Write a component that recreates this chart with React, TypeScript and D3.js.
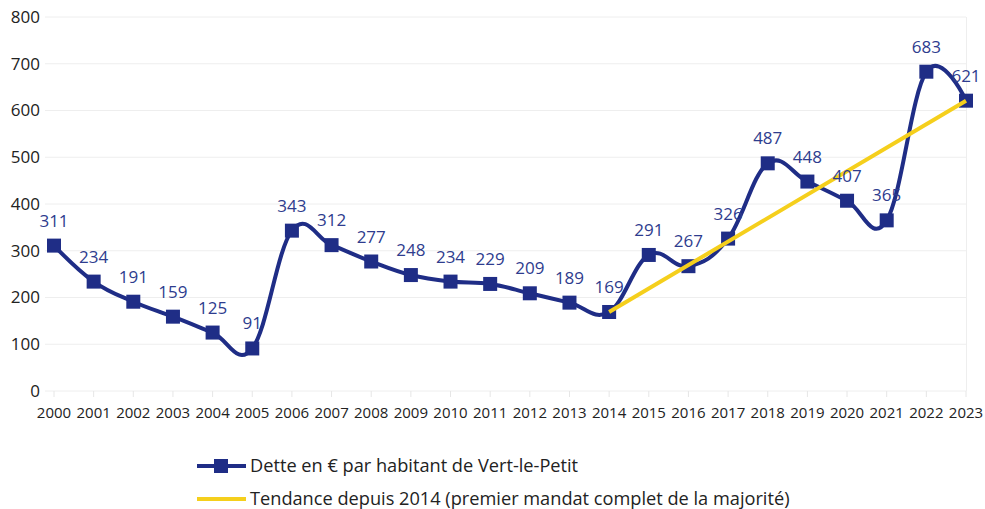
import React from "react";
import * as d3 from "d3";

const years = ["2000","2001","2002","2003","2004","2005","2006","2007","2008","2009","2010","2011","2012","2013","2014","2015","2016","2017","2018","2019","2020","2021","2022","2023"];
const debt = [311,234,191,159,125,91,343,312,277,248,234,229,209,189,169,291,267,326,487,448,407,365,683,621];
const trendYears = ["2014","2023"];
const trendValues = [169,621];
const yTicks = [0,100,200,300,400,500,600,700,800];
const legendLabels = ["Dette en € par habitant de Vert-le-Petit","Tendance depuis 2014 (premier mandat complet de la majorité)"];

const W = 985, H = 509;
const FONT = "'Open Sans', 'Noto Sans', sans-serif";
const NAVY = "#1f2d86";
const LABEL = "#2e3c8e";
const YELLOW = "#f5cf1c";

export default function App() {
  const x = d3.scalePoint<string>().domain(years).range([54, 966]);
  const y = d3.scaleLinear().domain([0, 800]).range([391, 17]);
  const line = d3.line<number>().x((_, i) => x(years[i])!).y(d => y(d)).curve(d3.curveCardinal.tension(-0.15));
  const trend = d3.line<number>().x((_, i) => x(trendYears[i])!).y(d => y(d));
  return (
    <svg width={W} height={H} style={{ position: "absolute", left: 0, top: 0, background: "#fff" }}>
      {yTicks.map(t => (
        <g key={t}>
          <line x1={45} x2={966} y1={y(t)} y2={y(t)} stroke="#eeeeee" strokeWidth={1} />
          <text x={40} y={y(t)} dy="0.35em" textAnchor="end" fontFamily={FONT} fontSize={17} fill="#222">{t}</text>
        </g>
      ))}
      <line x1={966.5} x2={966.5} y1={17} y2={391} stroke="#eeeeee" />
      {years.map(yr => (
        <g key={yr}>
          <line x1={x(yr)} x2={x(yr)} y1={391} y2={397} stroke="#e6e6e6" />
          <text x={x(yr)} y={418} textAnchor="middle" fontFamily={FONT} fontSize={15} fill="#222">{yr}</text>
        </g>
      ))}
      <path d={line(debt)!} fill="none" stroke={NAVY} strokeWidth={4} />
      {debt.map((v, i) => (
        <rect key={i} x={x(years[i])! - 7} y={y(v) - 7} width={14} height={14} fill={NAVY} />
      ))}
      <path d={trend(trendValues)!} fill="none" stroke={YELLOW} strokeWidth={4} />
      {debt.map((v, i) => (
        <text key={i} x={x(years[i])} y={y(v) - 19} textAnchor="middle" fontFamily={FONT} fontSize={17} fill={LABEL}>{v}</text>
      ))}
      <g>
        <line x1={197} x2={246} y1={466} y2={466} stroke={NAVY} strokeWidth={4} />
        <rect x={214} y={459} width={14} height={14} fill={NAVY} />
        <text x={250} y={466} dy="0.35em" fontFamily={FONT} fontSize={18.2} fill="#222">{legendLabels[0]}</text>
        <line x1={197} x2={246} y1={499} y2={499} stroke={YELLOW} strokeWidth={4} />
        <text x={250} y={499} dy="0.35em" fontFamily={FONT} fontSize={18.2} fill="#222">{legendLabels[1]}</text>
      </g>
    </svg>
  );
}
